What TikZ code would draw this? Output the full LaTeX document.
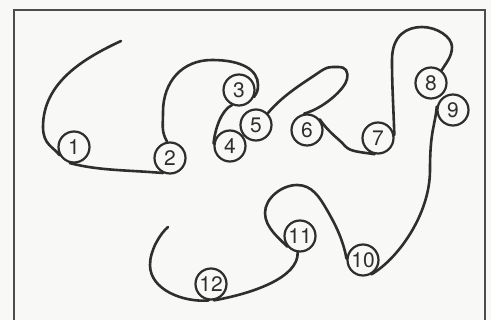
\documentclass[tikz,border=0pt]{standalone}
\usepackage{fontspec}
\setmainfont{TeX Gyre Heros}
\definecolor{ink}{HTML}{2E2E2E}
\definecolor{paper}{HTML}{F8F8F6}
\begin{document}
\begin{tikzpicture}[x=1pt,y=1pt,
  pearl/.style={circle,draw=ink,line width=2.2pt,minimum size=31pt,inner sep=0pt,
    text=ink,font=\fontsize{21}{21}\selectfont},
  string/.style={draw=ink,line width=2.6pt,line cap=round}]
\useasboundingbox (0,-320) rectangle (491,0);
\fill[paper] (0,-320) rectangle (491,0);
\clip (0,-320) rectangle (491,0);
\draw[line width=2.8pt,draw=black!70] (14,-330) -- (14,-10) -- (485,-10) -- (485,-330);

\node[pearl] (n1) at (74,-147) {1};
\node[pearl] (n2) at (170,-158) {2};
\node[pearl] (n3) at (239,-90) {3};
\node[pearl] (n4) at (230,-146) {4};
\node[pearl] (n5) at (256,-125) {5};
\node[pearl] (n6) at (307,-130) {6};
\node[pearl] (n7) at (378,-138) {7};
\node[pearl] (n8) at (431,-83) {8};
\node[pearl] (n9) at (453,-110) {9};
\node[pearl] (n10) at (363,-260) {10};
\node[pearl] (n11) at (300,-236) {11};
\node[pearl] (n12) at (211,-284) {12};
\coordinate (s0) at (121,-41);
\coordinate (s1) at (168,-227);

% free end to 1
\draw[string] (s0) .. controls +(205:40) and +(90:45) .. (43,-127)
  .. controls +(270:18) and +(125:10) .. (n1.210);
% 1 to 2
\draw[string] (n1.255) .. controls +(345:30) and +(175:35) .. (n2.245);
% 2 to 3
\draw[string] (n2.100) .. controls +(120:12) and +(270:14) .. (163,-112)
  .. controls +(90:30) and +(180:30) .. (212,-60)
  .. controls +(0:30) and +(90:15) .. (258,-85)
  .. controls +(270:7) and +(60:5) .. (n3.335);
% 3 to 4
\draw[string] (n3.245) .. controls +(205:12) and +(85:14) .. (n4.172);
% 5 to 6
\draw[string] (n5.45) .. controls +(50:25) and +(215:15) .. (318,-73)
  .. controls +(35:12) and +(180:8) .. (338,-67)
  .. controls +(0:8) and +(80:8) .. (347,-79)
  .. controls +(260:10) and +(15:20) .. (n6.100);
% 6 to 7
\draw[string] (n6.40) .. controls +(305:18) and +(130:10) .. (345,-146)
  .. controls +(310:8) and +(170:12) .. (n7.258);
% 7 to 8
\draw[string] (n7.10) .. controls +(92:35) and +(270:25) .. (392,-60)
  .. controls +(90:25) and +(180:15) .. (422,-27)
  .. controls +(0:15) and +(90:10) .. (452,-47)
  .. controls +(270:10) and +(60:8) .. (n8.50);
% 9 to 10
\draw[string] (n9.168) .. controls +(265:20) and +(90:40) .. (430,-170)
  .. controls +(270:45) and +(30:30) .. (n10.300);
% 10 to 11
\draw[string] (n10.175) .. controls +(100:20) and +(300:15) .. (327,-210)
  .. controls +(120:15) and +(0:15) .. (297,-185)
  .. controls +(180:15) and +(90:15) .. (265,-213)
  .. controls +(270:15) and +(133:10) .. (n11.220);
% 11 to 12
\draw[string] (n11.262) .. controls +(272:25) and +(10:40) .. (n12.280);
% 12 to free end
\draw[string] (n12.262) .. controls +(185:25) and +(270:25) .. (150,-265)
  .. controls +(90:15) and +(220:10) .. (s1);
\end{tikzpicture}
\end{document}
